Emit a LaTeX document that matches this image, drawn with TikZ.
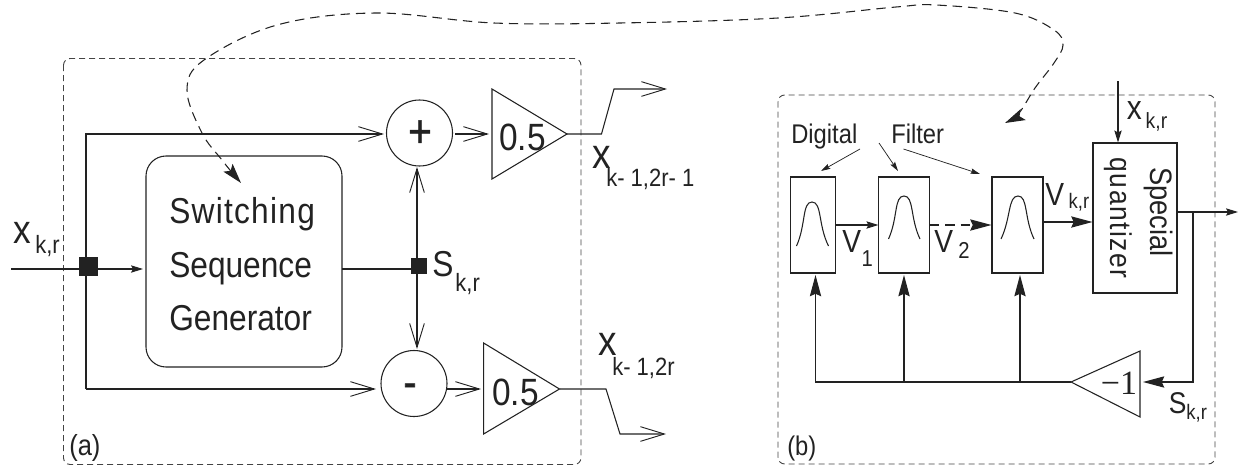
\documentclass[tikz,border=0pt]{standalone}
\usepackage{fontspec}
\setmainfont[FakeStretch=0.88]{Liberation Sans}
\newfontfamily\serifx{Liberation Serif}
\usetikzlibrary{arrows.meta,calc}
\def\u{0.75pt}
\newcommand\pxfont[1]{\pgfmathsetmacro\tmpfs{#1*0.75}\fontsize{\tmpfs pt}{\tmpfs pt}\selectfont}
% [index size px]{main size px}{main}{kern pt}{drop pt}{index}
\newcommand\sublab[6][25]{{\pxfont{#2}#3}\kern #4pt\raisebox{-#5pt}{\pxfont{#1}#6}}
\definecolor{ink}{HTML}{222222}
\definecolor{frameink}{HTML}{444444}
\tikzset{
  ln/.style={draw=ink,line width=0.8pt},
  thin ln/.style={draw=ink,line width=0.55pt},
  open/.style={ln,-{Straight Barb[length=18pt,width=11pt,line width=0.7pt]}},
  openb/.style={ln,{Straight Barb[length=18pt,width=11pt,line width=0.7pt]}-{Straight Barb[length=18pt,width=11pt,line width=0.7pt]}},
  small/.style={ln,-{Stealth[length=9pt,width=5.5pt,inset=1.5pt]}},
  big/.style={ln,-{Stealth[length=16pt,width=8.5pt,inset=2pt]}},
  tiny/.style={thin ln,-{Stealth[length=7pt,width=4pt,inset=1pt]}},
  frame/.style={draw=frameink,line width=0.7pt,dash pattern=on 4.5pt off 3pt,rounded corners=5pt},
  box/.style={draw=ink,line width=0.8pt,inner sep=0pt,rectangle},
  sum/.style={draw=ink,line width=0.8pt,circle,inner sep=0pt,minimum size={66*\u}},
  dot/.style={fill=ink,inner sep=0pt,rectangle},
  txt/.style={inner sep=0pt,text=ink},
  btxt/.style={txt,anchor=base west},
}
\begin{document}
\begin{tikzpicture}[x=0.75pt,y=-0.75pt]
\useasboundingbox (0,0) rectangle (1239,468);
% frames
\draw[frame] (63.5,58.5) rectangle (581,464.5);
\draw[frame] (778,95) rectangle (1215,464);
% panel (a)
\node[box,rounded corners=15pt,minimum width={196*\u},minimum height={211*\u}] (gen) at (244,261.5) {};
\node[btxt] (t1) at (169,223) {\pxfont{36}\addfontfeature{LetterSpace=3.5}Switching};
\node[btxt] (t2) at (169,277) {\pxfont{36}Sequence};
\node[btxt] (t3) at (169,330) {\pxfont{36}Generator};
\node[sum] (plus) at (419.5,133) {};
\node[txt,anchor=base] (plust) at (420,147) {\pxfont{46}\addfontfeature{FakeBold=1}+};
\node[sum] (minus) at (414,383.5) {};
\node[txt,anchor=base] (minust) at (410,397) {\pxfont{44}\addfontfeature{FakeBold=1.5}-};
\coordinate (t1tip) at (567,134);
\coordinate (t1a) at (492,89);
\coordinate (t1b) at (492,179);
\draw[ln] (t1tip) -- (t1a) -- (t1b) -- cycle;
\coordinate (t2tip) at (559.5,389);
\coordinate (t2a) at (483.6,343);
\coordinate (t2b) at (483.6,434);
\draw[ln] (t2tip) -- (t2a) -- (t2b) -- cycle;
\node[btxt] (h1) at (499,150) {\pxfont{38}0.5};
\node[btxt] (h2) at (492,405) {\pxfont{38}0.5};
\node[dot,minimum width={19*\u},minimum height={19*\u}] (ja) at (88.5,266.5) {};
\node[dot,minimum width={16*\u},minimum height={16*\u}] (jb) at (419,266) {};
\coordinate (in) at (11,269);
\coordinate (ingen) at (143,269);
\coordinate (topcorner) at (86,134);
\coordinate (botcorner) at (86,389);
\coordinate (plusin) at (384,134);
\coordinate (minusin) at (376,389);
\coordinate (plusout) at (455,134);
\coordinate (h1in) at (489,134);
\coordinate (minusout) at (447,389);
\coordinate (h2in) at (481,389);
\coordinate (sp) at (417,167);
\coordinate (sm) at (417,349);
\coordinate (gout) at (342,269);
\coordinate (js) at (417,269);
\draw[small] (in) -- (ingen);
\draw[open] (botcorner) -- (topcorner) -- (plusin);
\draw[open] (botcorner) -- (minusin);
\draw[open] (plusout) -- (h1in);
\draw[open] (minusout) -- (h2in);
\draw[openb] (sp) -- (sm);
\draw[ln] (gout) -- (js);
\coordinate (o1a) at (601.5,134);
\coordinate (o1b) at (614,89);
\coordinate (o1c) at (667,89);
\draw[open] (t1tip) -- (o1a) -- (o1b) -- (o1c);
\coordinate (o2a) at (606,389);
\coordinate (o2b) at (620,434);
\coordinate (o2c) at (666,434);
\draw[open] (t2tip) -- (o2a) -- (o2b) -- (o2c);
\node[btxt] (lx) at (13.5,243) {\sublab{40}{x}{3}{8}{k,r}};
\node[btxt] (ls) at (432,276.5) {\sublab{36}{S}{1.5}{11}{k,r}};
\node[btxt] (lo1) at (592.5,168) {\sublab{42}{x}{-3.75}{14}{k- 1,2r- 1}};
\node[btxt] (lo2) at (598.5,355) {\sublab{42}{x}{-3.75}{15}{k- 1,2r}};
\node[btxt] (la) at (69,455) {\pxfont{29}(a)};
% dashed link
\coordinate (linka) at (241,183);
\coordinate (linkb) at (1005,123);
\draw[ln,dash pattern=on 7pt off 4.5pt,{Stealth[length=15pt,width=9pt,inset=3pt]}-{Stealth[length=15pt,width=9pt,inset=3pt]}]
  plot[smooth,tension=0.6] coordinates {(linka) (222,160) (202,133) (187,90) (204,60) (277,25) (376,13) (494,23) (620,23) (778,18) (896,7) (936,5) (1015,13) (1054,30) (1063,45) (1054,63) (1035,88) (1019,113) (linkb)};
% panel (b)
\node[btxt] (dig) at (791,143) {\pxfont{27}Digital};
\node[btxt] (fil) at (891,143) {\pxfont{27}Filter};
\node[box,minimum width={45.5*\u},minimum height={96*\u}] (f1) at (813.2,225) {};
\node[box,minimum width={50.5*\u},minimum height={96*\u}] (f2) at (904.2,225) {};
\node[box,minimum width={51*\u},minimum height={96*\u}] (f3) at (1017.5,225) {};
\node[box,minimum width={84*\u},minimum height={150*\u}] (q) at (1135,218) {};
\node[txt,rotate=-90] (sp1) at (1159,212) {\pxfont{31}Special};
\node[txt,rotate=-90] (qz) at (1118,218) {\pxfont{30}\addfontfeature{LetterSpace=5}quantizer};
\draw[ln] (796.5,246) .. controls (806,225) and (802,202) .. (812,202) .. controls (822,202) and (818,225) .. (828.5,246);
\draw[ln] (888.5,239) .. controls (898,218) and (894,196) .. (904,196) .. controls (914,196) and (910,218) .. (920,239);
\draw[ln] (1001,239) .. controls (1011,218) and (1008,196) .. (1018,196) .. controls (1028,196) and (1024,218) .. (1034,239);
\coordinate (d1) at (860,149); \coordinate (d1e) at (821,171);
\coordinate (d2) at (879,143); \coordinate (d2e) at (898,171);
\coordinate (d3) at (903.5,149); \coordinate (d3e) at (980,174);
\draw[tiny] (d1) -- (d1e);
\draw[tiny] (d2) -- (d2e);
\draw[tiny] (d3) -- (d3e);
\draw[small] (f1.east |- 0,225) -- (f2.west |- 0,225);
\draw[big,dash pattern=on 7pt off 4.5pt] (f2.east |- 0,225) -- (f3.west |- 0,225);
\draw[big] (f3.east |- 0,222) -- (q.west |- 0,222);
\coordinate (xin) at (1118,81);
\draw[small] (xin) -- (xin |- q.north);
\coordinate (qout) at (1238,212);
\coordinate (br) at (1193,212);
\coordinate (tb) at (1071,382);
\coordinate (tba) at (1140,351);
\coordinate (tbb) at (1140,417);
\coordinate (tbin) at (1143,382);
\draw[ln] (tb) -- (tba) -- (tbb) -- cycle;
\node[txt] (mo) at (1119,383) {\pxfont{34}\serifx −1};
\draw[small] (q.east |- qout) -- (qout);
\draw[big] (br) -- (br |- tbin) -- (tbin);
\coordinate (fb1) at (815.5,382);
\coordinate (fb2) at (904,382);
\coordinate (fb3) at (1020,382);
\draw[big] (tb) -- (fb1) -- (815.5,275);
\draw[big] (fb2) -- (904,275);
\draw[big] (fb3) -- (1020,275);
\node[btxt] (v1) at (842,252) {\sublab[23]{32}{V}{0.5}{11}{1}};
\node[btxt] (v2) at (934,252) {\sublab[23]{32}{V}{4}{4.5}{2}};
\node[btxt] (v3) at (1045,205) {\sublab[21]{32}{V}{3.5}{2.5}{k,r}};
\node[btxt] (xt) at (1126.5,119) {\sublab[22]{34}{x}{3}{6.75}{k,r}};
\node[btxt] (sb) at (1168.5,413) {\sublab[21]{30}{S}{0}{5}{k,r}};
\node[btxt] (lb) at (787,455) {\pxfont{27}(b)};
\end{tikzpicture}
\end{document}
